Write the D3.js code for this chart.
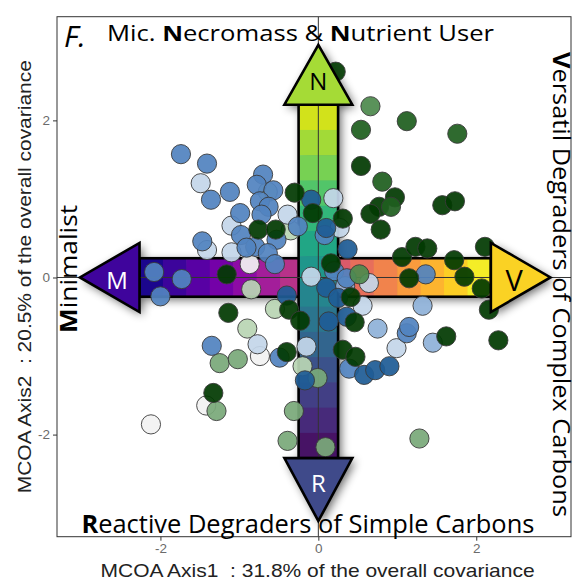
<!DOCTYPE html>
<html>
<head>
<meta charset="utf-8">
<script src="https://cdn.jsdelivr.net/npm/d3@7"></script>
<style>
  html, body { margin: 0; padding: 0; background: #fff; }
  svg { display: block; }
</style>
</head>
<body>
<svg id="chart"></svg>
<script>
// ---- data ----
const xTicks = [-2, 0, 2];
const yTicks = [-2, 0, 2];
const xTitle = "MCOA Axis1  : 31.8% of the overall covariance";
const yTitle = "MCOA Axis2  : 20.5% of the overall covariance";

const topLabel = [["Mic. ", 0], ["N", 1], ["ecromass & ", 0], ["N", 1], ["utrient User", 0]];
const bottomLabel = [["R", 1], ["eactive Degraders of Simple Carbons", 0]];
const leftLabel = [["M", 1], ["inimalist", 0]];
const rightLabel = [["V", 1], ["ersatil Degraders of Complex Carbons", 0]];
const panelTag = "F.";

// sample scores, one array per colour group
const white = [[-0.87, 0.17], [-0.74, -1.00], [-1.42, -1.63], [-2.12, -1.87]];
const lightGreen = [[-0.64, 1.09], [-0.35, 0.60], [-0.85, -0.15], [-0.55, -0.40], [-0.90, -0.65], [-0.20, -1.13]];
const sageGreen = [[-1.25, -1.09], [-1.02, -1.04], [-0.01, -1.28], [-1.29, -1.70], [-0.31, -1.70],
  [-0.39, -2.08], [0.09, -2.16], [1.28, -2.05]];
const lightBlue = [[-1.49, 1.20], [-1.10, 0.66], [-0.39, 0.80], [-1.10, 0.32], [-1.41, 0.35], [0.27, 0.63],
  [0.19, 1.01], [-0.77, -0.85], [-0.15, -0.88], [-0.09, 0.01], [0.64, -0.07], [0.56, -0.36], [0.99, -0.90]];
const skyBlue = [[0.34, -0.11], [0.75, -0.65], [1.32, -0.36], [1.45, -0.83]];
const blue = [[-1.74, 1.57], [-1.41, 1.45], [-1.36, 0.99], [-1.12, 1.09], [-0.70, 1.31], [-0.78, 1.18],
  [-0.57, 1.11], [-0.74, 0.97], [-0.63, 0.90], [-0.72, 0.80], [-0.99, 0.82], [-0.98, 0.54], [-0.26, 0.65],
  [-0.53, 0.48], [-0.80, 0.39], [-0.91, 0.38], [-0.64, 0.31], [-0.55, 0.17], [-1.47, 0.46], [-2.08, 0.07],
  [-1.73, -0.02], [-2.00, -0.24], [0.08, 0.54], [1.36, 0.04], [0.20, 0.08], [0.36, -0.01], [-1.35, -0.87],
  [-0.49, -1.02], [1.12, -0.71], [1.15, -0.63], [0.39, -1.16]];
const darkBlue = [[-0.09, 0.99], [0.10, 0.63], [0.37, 0.36], [-0.40, -0.23], [-0.17, -1.31], [0.10, -0.13],
  [0.25, -0.26], [0.36, -0.50], [0.13, -0.56], [0.58, -1.24], [0.72, -1.18], [0.90, -1.13]];
const darkGreen = [[-0.76, 0.61], [-0.54, 0.61], [-0.30, 1.08], [-0.07, 0.82], [-1.16, 0.04], [0.31, 0.75],
  [0.22, 2.62], [0.54, 1.42], [0.97, 1.02], [0.77, 0.90], [0.66, 0.81], [0.79, 0.61], [1.57, 0.92],
  [1.73, 0.97], [1.06, 0.26], [1.23, 0.39], [1.38, 0.37], [1.72, 0.22], [2.11, 0.39], [1.15, -0.01],
  [1.85, 0.01], [0.16, 0.18], [-0.37, -0.41], [-0.23, -0.55], [-1.14, -0.45], [-0.40, -0.95], [-1.33, -1.47],
  [0.41, -0.25], [0.46, -0.57], [1.62, -0.75], [2.28, -0.80], [2.16, -0.41], [2.07, -0.14], [0.31, -0.92],
  [0.47, -1.01]];
const forestGreen = [[0.54, 1.88], [1.12, 1.99], [1.76, 1.83], [0.81, 1.22], [0.92, 0.90]];
const midGreen = [[0.66, 2.18], [0.52, 0.04]];

// arrow geometry in axis units
const vShaft = { x0: -0.25, x1: 0.25, y0: -2.30, y1: 2.20 };
const hShaft = { x0: -2.265, x1: 2.185, y0: -0.245, y1: 0.245 };
const heads = [
  { key: "N", base: [[-0.43, 2.20], [0.43, 2.20]], tip: [0, 2.96], fill: "#a5db36", text: "#000", lab: [0, 2.39] },
  { key: "R", base: [[-0.43, -2.30], [0.43, -2.30]], tip: [0, -3.10], fill: "#3f4a8a", text: "#fff", lab: [0, -2.73] },
  { key: "M", base: [[-2.265, 0.44], [-2.265, -0.44]], tip: [-3.02, 0], fill: "#3f049c", text: "#fff", lab: [-2.55, -0.15] },
  { key: "V", base: [[2.185, 0.44], [2.185, -0.44]], tip: [2.94, 0], fill: "#fad224", text: "#000", lab: [2.48, -0.17] }
];

// ---- layout ----
const W = 580, H = 581;
const panel = { left: 57, right: 571, top: 16.7, bottom: 536.7 };

const svg = d3.select("#chart").attr("width", W).attr("height", H);

const x = d3.scaleLinear().domain([-3.31, 3.20]).range([panel.left, panel.right]);
const y = d3.scaleLinear().domain([-3.30, 3.32]).range([panel.bottom, panel.top]);

const defs = svg.append("defs");
const f = defs.append("filter").attr("id", "shadow")
  .attr("x", "-20%").attr("y", "-20%").attr("width", "140%").attr("height", "140%");
f.append("feGaussianBlur").attr("in", "SourceAlpha").attr("stdDeviation", 5);
f.append("feOffset").attr("dx", 3).attr("dy", 3).attr("result", "b");
f.append("feComponentTransfer").append("feFuncA").attr("type", "linear").attr("slope", 0.6);

defs.append("clipPath").attr("id", "panelClip").append("rect")
  .attr("x", panel.left).attr("y", panel.top)
  .attr("width", panel.right - panel.left).attr("height", panel.bottom - panel.top);

const plot = svg.append("g").attr("clip-path", "url(#panelClip)");

const headPath = h => "M" + h.base.map(p => x(p[0]) + "," + y(p[1])).join("L") + "L" + x(h.tip[0]) + "," + y(h.tip[1]) + "Z";

// shadow under the whole cross
const sh = plot.append("g").attr("filter", "url(#shadow)");
sh.append("rect").attr("x", x(hShaft.x0)).attr("y", y(hShaft.y1))
  .attr("width", x(hShaft.x1) - x(hShaft.x0)).attr("height", y(hShaft.y0) - y(hShaft.y1));
sh.append("rect").attr("x", x(vShaft.x0)).attr("y", y(vShaft.y1))
  .attr("width", x(vShaft.x1) - x(vShaft.x0)).attr("height", y(vShaft.y0) - y(vShaft.y1));
heads.forEach(h => sh.append("path").attr("d", headPath(h)));

// horizontal shaft: stepped plasma bands
const hBands = 15;
const hStep = (hShaft.x1 - hShaft.x0) / hBands;
plot.append("g").selectAll("rect").data(d3.range(hBands)).join("rect")
  .attr("x", i => x(hShaft.x0 + i * hStep))
  .attr("y", y(hShaft.y1))
  .attr("width", x(hShaft.x0 + hStep) - x(hShaft.x0) + 0.5)
  .attr("height", y(hShaft.y0) - y(hShaft.y1))
  .attr("fill", i => d3.interpolatePlasma(0.02 + 0.95 * i / (hBands - 1)));
plot.append("rect").attr("x", x(hShaft.x0)).attr("y", y(hShaft.y1))
  .attr("width", x(hShaft.x1) - x(hShaft.x0)).attr("height", y(hShaft.y0) - y(hShaft.y1))
  .attr("fill", "none").attr("stroke", "#000").attr("stroke-width", 2.6);

// vertical shaft: stepped viridis bands
const vBands = 14;
const vStep = (vShaft.y1 - vShaft.y0) / vBands;
plot.append("g").selectAll("rect").data(d3.range(vBands)).join("rect")
  .attr("x", x(vShaft.x0))
  .attr("y", i => y(vShaft.y1 - i * vStep))
  .attr("width", x(vShaft.x1) - x(vShaft.x0))
  .attr("height", y(vShaft.y1 - vStep) - y(vShaft.y1) + 0.5)
  .attr("fill", i => d3.interpolateViridis(0.93 - 0.88 * i / (vBands - 1)));
plot.append("rect").attr("x", x(vShaft.x0)).attr("y", y(vShaft.y1))
  .attr("width", x(vShaft.x1) - x(vShaft.x0)).attr("height", y(vShaft.y0) - y(vShaft.y1))
  .attr("fill", "none").attr("stroke", "#000").attr("stroke-width", 2.6);

// zero lines
plot.append("line").attr("x1", x(0)).attr("x2", x(0)).attr("y1", panel.top).attr("y2", panel.bottom)
  .attr("stroke", "#333").attr("stroke-width", 1);
plot.append("line").attr("y1", y(0)).attr("y2", y(0)).attr("x1", panel.left).attr("x2", panel.right)
  .attr("stroke", "#333").attr("stroke-width", 1);

// points
const groups = [
  { data: white, fill: "#f2f2f2" },
  { data: lightGreen, fill: "#b9d5b4" },
  { data: sageGreen, fill: "#7aa97a" },
  { data: lightBlue, fill: "#c4d6ea" },
  { data: skyBlue, fill: "#8fb1d8" },
  { data: blue, fill: "#5283c0" },
  { data: darkBlue, fill: "#1f5d96" },
  { data: darkGreen, fill: "#023a02" },
  { data: forestGreen, fill: "#1f5f1f" },
  { data: midGreen, fill: "#4e8a4e" }
];
const pts = plot.append("g");
groups.forEach(g => {
  pts.append("g").selectAll("circle").data(g.data).join("circle")
    .attr("cx", d => x(d[0])).attr("cy", d => y(d[1])).attr("r", 9.6)
    .attr("fill", g.fill).attr("fill-opacity", 0.93)
    .attr("stroke", "#3a3a3a").attr("stroke-width", 0.9);
});

// arrow heads
const hg = plot.append("g");
heads.forEach(h => {
  hg.append("path").attr("d", headPath(h)).attr("fill", h.fill)
    .attr("stroke", "#000").attr("stroke-width", 2.6).attr("stroke-linejoin", "miter");
  hg.append("text").attr("x", x(h.lab[0])).attr("y", y(h.lab[1]))
    .attr("text-anchor", "middle").attr("fill", h.text)
    .attr("font-family", "'Open Sans', sans-serif")
    .attr("font-size", h.key === "V" ? 29 : 24).text(h.key);
});

// panel border
svg.append("rect").attr("x", panel.left).attr("y", panel.top)
  .attr("width", panel.right - panel.left).attr("height", panel.bottom - panel.top)
  .attr("fill", "none").attr("stroke", "#333").attr("stroke-width", 1);

// axes
const fmt = d => String(d);
const xAxis = svg.append("g").attr("transform", `translate(0,${panel.bottom})`)
  .call(d3.axisBottom(x).tickValues(xTicks).tickFormat(fmt).tickSize(4).tickSizeOuter(0).tickPadding(3));
const yAxis = svg.append("g").attr("transform", `translate(${panel.left},0)`)
  .call(d3.axisLeft(y).tickValues(yTicks).tickFormat(fmt).tickSize(4).tickSizeOuter(0).tickPadding(3));
[xAxis, yAxis].forEach(a => {
  a.select(".domain").remove();
  a.selectAll(".tick line").attr("stroke", "#333");
  a.selectAll(".tick text").attr("fill", "#6b6b6b").attr("font-size", 13.5)
    .attr("font-family", "'Liberation Sans', Arial, sans-serif");
});

svg.append("text").attr("x", 317.6).attr("y", 576.7).attr("text-anchor", "middle")
  .attr("font-family", "'Liberation Sans', Arial, sans-serif").attr("font-size", 18.5)
  .attr("fill", "#222").style("white-space", "pre")
  .attr("textLength", 434).attr("lengthAdjust", "spacingAndGlyphs").text(xTitle);
svg.append("text").attr("transform", "translate(31,276.7) rotate(-90)").attr("text-anchor", "middle")
  .attr("font-family", "'Liberation Sans', Arial, sans-serif").attr("font-size", 18.5)
  .attr("fill", "#222").style("white-space", "pre")
  .attr("textLength", 433).attr("lengthAdjust", "spacingAndGlyphs").text(yTitle);

// quadrant labels
function richText(parts, attrs, len) {
  const t = svg.append("text").attr("font-family", "'Open Sans', sans-serif").attr("fill", "#000")
    .style("white-space", "pre").attr("textLength", len).attr("lengthAdjust", "spacingAndGlyphs");
  Object.entries(attrs).forEach(([k, v]) => t.attr(k, v));
  parts.forEach(([s, b]) => t.append("tspan").attr("font-weight", b ? 700 : 400).text(s));
  return t;
}
richText(topLabel, { x: 107, y: 40.7, "font-size": 22 }, 387);
richText(bottomLabel, { x: 81.4, y: 533.3, "font-size": 25.5 }, 453);
richText(leftLabel, { transform: "translate(77,333) rotate(-90)", "font-size": 24 }, 128);
richText(rightLabel, { transform: "translate(553,52) rotate(90)", "font-size": 23 }, 465);

svg.append("text").attr("x", 64).attr("y", 46.7).attr("font-family", "'Open Sans', sans-serif")
  .attr("font-style", "italic").attr("font-size", 30).attr("fill", "#000").text(panelTag);
</script>
</body>
</html>
